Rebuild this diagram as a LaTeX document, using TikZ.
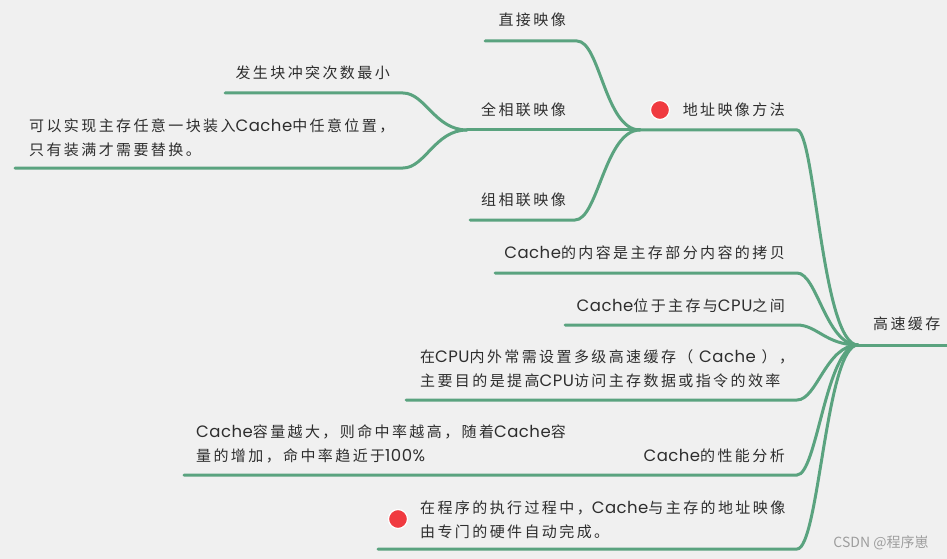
\documentclass[tikz,border=0pt]{standalone}
\usepackage{fontspec}
\setmainfont{Noto Sans CJK SC}[LetterSpace=16]
\newfontfamily\latf{Poppins}[LetterSpace=3]
\newfontfamily\wmfont{Noto Sans CJK SC}
\newcommand\lat[1]{{\latf\fontsize{16.5}{24}\selectfont #1}}
\definecolor{bgc}{HTML}{F0F0F0}
\definecolor{mmgreen}{HTML}{5AA37F}
\definecolor{mmred}{HTML}{F03A40}
\definecolor{txt}{HTML}{2E2E2E}
\newcommand\mmfs{\fontsize{15}{24}\selectfont}
\begin{document}
\begin{tikzpicture}[x=1pt,y=-1pt,
  br/.style={line width=3pt, draw=mmgreen, line cap=round},
  lbl/.style={font=\mmfs, text=txt, inner sep=0pt},
  dot/.style={circle, fill=mmred, draw=white, line width=1.2pt, minimum size=19pt, inner sep=0pt}]
\fill[bgc] (0,0) rectangle (947,559);
\useasboundingbox (0,0) rectangle (947,559);

% labels
\node[lbl, anchor=west] (root) at (873,324) {高速缓存};
\node[lbl, anchor=east] (addr) at (785,110) {地址映像方法};
\node[dot] (d1) at (660,110) {};
\node[lbl, anchor=east] (direct) at (566,20) {直接映像};
\node[lbl, anchor=east] (full) at (566,110) {全相联映像};
\node[lbl, anchor=east] (setm) at (566,200) {组相联映像};
\node[lbl, anchor=east] (conf) at (390,73) {发生块冲突次数最小};
\node[lbl, anchor=west, align=left] (any) at (29,138) {可以实现主存任意一块装入\lat{Cache}中任意位置，\\只有装满才需要替换。};
\node[lbl, anchor=east] (copy) at (785,253) {\lat{Cache}的内容是主存部分内容的拷贝};
\node[lbl, anchor=east] (betw) at (785,306) {\lat{Cache}位于主存与\lat{CPU}之间};
\node[lbl, anchor=west, align=left] (multi) at (420,369) {在\lat{CPU}内外常需设置多级高速缓存（ \lat{Cache} ），\\主要目的是提高\lat{CPU}访问主存数据或指令的效率};
\node[lbl, anchor=east] (perf) at (785,456) {\lat{Cache}的性能分析};
\node[lbl, anchor=west, align=left] (cap) at (196,444) {\lat{Cache}容量越大，则命中率越高，随着\lat{Cache}容\\量的增加，命中率趋近于\lat{100\%}};
\node[lbl, anchor=west, align=left] (hw) at (420,520) {在程序的执行过程中，\lat{Cache}与主存的地址映像\\由专门的硬件自动完成。};
\node[dot] (d2) at (398,519) {};
\node[font=\wmfont\fontsize{14}{16}\selectfont, text=black!38, inner sep=0pt] (wm) at (881,543) {CSDN @程序崽};

% junctions and line ends
\coordinate (J0) at (858,345);
\coordinate (R0) at (947,345);
\coordinate (J1) at (640,130);
\coordinate (A1) at (797,130);
\coordinate (J2) at (467,130);
\coordinate (D0) at (485,41);   \coordinate (D1) at (577,41);
\coordinate (S0) at (470,220);  \coordinate (S1) at (575,220);
\coordinate (F0) at (225,93);   \coordinate (F1) at (403,93);
\coordinate (G0) at (15,168);   \coordinate (G1) at (403,168);
\coordinate (P0) at (495,273);  \coordinate (P1) at (797,273);
\coordinate (Q0) at (565,325);  \coordinate (Q1) at (797,325);
\coordinate (M0) at (406,400);  \coordinate (M1) at (797,400);
\coordinate (K0) at (184,475);  \coordinate (K1) at (797,475);
\coordinate (H0) at (378,549);  \coordinate (H1) at (797,549);

% connectors
\draw[br] (J0) -- (R0);
\draw[br] (J1) -- (A1) .. controls +(18,0) and +(-36,0) .. (J0);
\draw[br] (P0) -- (P1) .. controls +(20,0) and +(-32,0) .. (J0);
\draw[br] (Q0) -- (Q1) .. controls +(20,0) and +(-32,0) .. (J0);
\draw[br] (M0) -- (M1) .. controls +(20,0) and +(-32,0) .. (J0);
\draw[br] (K0) -- (K1) .. controls +(20,0) and +(-32,0) .. (J0);
\draw[br] (H0) -- (H1) .. controls +(22,0) and +(-32,0) .. (J0);
\draw[br] (D0) -- (D1) .. controls +(23,0) and +(-35,0) .. (J1);
\draw[br] (J2) -- (J1);
\draw[br] (S0) -- (S1) .. controls +(23,0) and +(-35,0) .. (J1);
\draw[br] (F0) -- (F1) .. controls +(22,0) and +(-32,0) .. (J2);
\draw[br] (G0) -- (G1) .. controls +(22,0) and +(-32,0) .. (J2);
\end{tikzpicture}
\end{document}
